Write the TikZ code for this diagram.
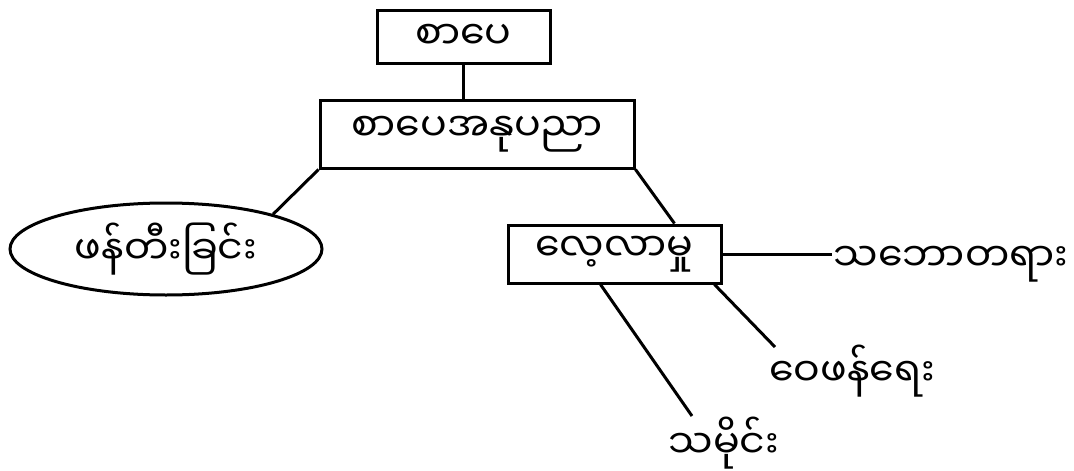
\documentclass[tikz,border=0pt]{standalone}
\usepackage{fontspec}
\newfontfamily\mya[Script=Myanmar]{Noto Sans Myanmar UI}
\usetikzlibrary{shapes.geometric}
\begin{document}
\begin{tikzpicture}[x=1pt,y=-1pt,
  line width=3pt,
  myfont/.style={font=\mya\fontsize{39.5}{44}\selectfont},
  boxnode/.style={draw, rectangle, inner sep=0pt, myfont},
  ellnode/.style={draw, ellipse, inner sep=0pt, myfont},
  txtnode/.style={inner sep=0pt, myfont},
  link/.style={line width=3pt}]
\useasboundingbox (0,0) rectangle (1074,471);
\node[boxnode, minimum width=173pt, minimum height=53pt] (b1) at (463.5,36.5) {စာပေ};
\node[boxnode, minimum width=314pt, minimum height=68pt] (b2) at (477,134) {စာပေအနုပညာ};
\node[ellnode, minimum width=312pt, minimum height=92pt] (ell) at (166,249) {ဖန်တီးခြင်း};
\node[boxnode, minimum width=213pt, minimum height=58pt] (b3) at (614.5,254) {လေ့လာမှု};
\node[txtnode, anchor=west] (t1) at (832,264) {သဘောတရား};
\node[txtnode, anchor=west] (t2) at (768,371) {ဝေဖန်ရေး};
\node[txtnode, anchor=west] (t3) at (667,443) {သမိုင်း};
\coordinate (c2) at (775,347);
\coordinate (c3) at (692,416);
\draw[link] (b1.south) -- (b2.north -| b1.south);
\draw[link] (b2.south west) -- (ell.18);
\draw[link] (b2.south east) -- ([xshift=-48pt]b3.north east);
\draw[link] (b3.east) -- (b3.east -| t1.west);
\draw[link] ([xshift=-8pt]b3.south east) -- (c2);
\draw[link] ([xshift=94pt]b3.south west) -- (c3);
\end{tikzpicture}
\end{document}
